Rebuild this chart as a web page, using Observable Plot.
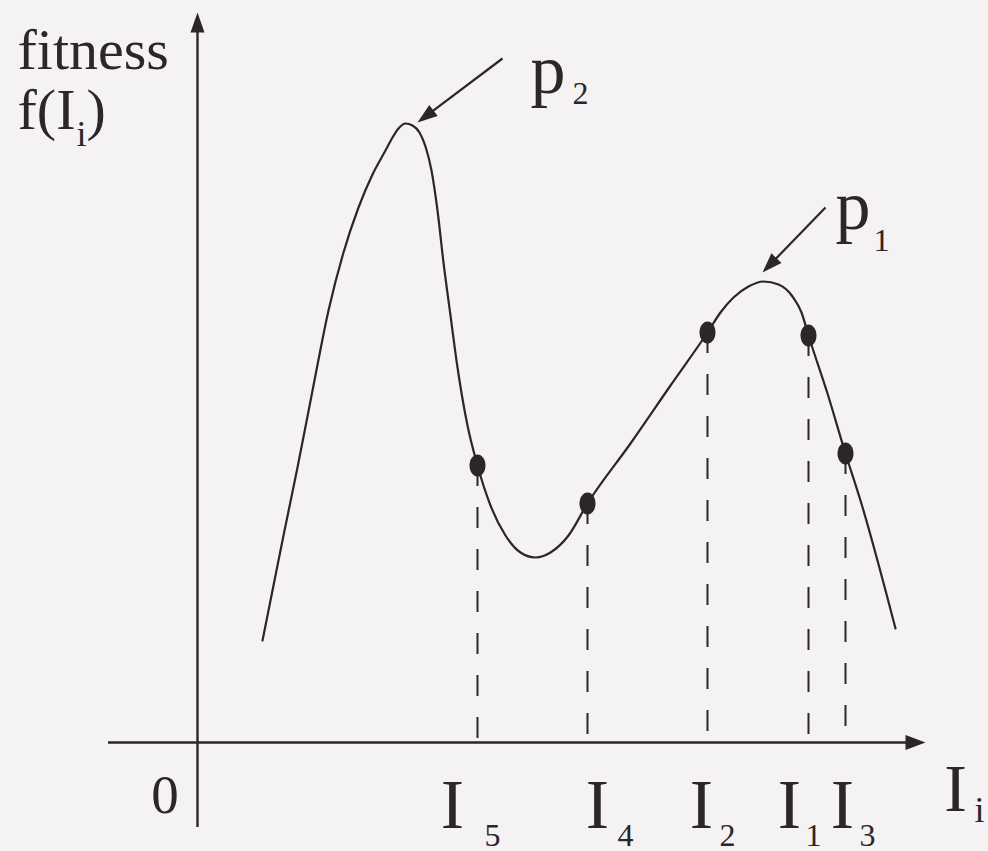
<!DOCTYPE html>
<html>
<head>
<meta charset="utf-8">
<script src="https://cdn.jsdelivr.net/npm/d3@7"></script>
<script src="https://cdn.jsdelivr.net/npm/@observablehq/plot@0.6"></script>
<style>
  html, body { margin: 0; padding: 0; background: #f4f2f2; }
  #chart svg { display: block; }
  #chart svg text { font-family: "Liberation Serif", "DejaVu Serif", serif !important; }
</style>
</head>
<body>
<div id="chart"></div>
<script>
// Fitness landscape f(I) sampled along the I axis
const curveI = [0.65, 0.73, 0.86, 1.00, 1.16, 1.31, 1.46, 1.61, 1.75, 1.88, 1.95, 2.01, 2.08, 2.15, 2.22, 2.28, 2.34, 2.40, 2.46, 2.53, 2.60, 2.70, 2.80, 2.93, 3.08, 3.23, 3.38, 3.53, 3.71, 3.90, 4.33, 4.73, 5.10, 5.23, 5.36, 5.51, 5.66, 5.81, 5.95, 6.04, 6.11, 6.30, 6.48, 6.63, 6.98];
const curveF = [1.02, 1.42, 2.07, 2.75, 3.57, 4.32, 4.90, 5.35, 5.68, 5.92, 6.05, 6.14, 6.19, 6.17, 6.10, 5.96, 5.72, 5.32, 4.80, 4.27, 3.75, 3.17, 2.77, 2.37, 2.07, 1.90, 1.85, 1.90, 2.07, 2.39, 2.99, 3.57, 4.10, 4.30, 4.45, 4.56, 4.61, 4.58, 4.46, 4.30, 4.07, 3.49, 2.89, 2.42, 1.14];

// Individuals on the landscape
const individuals = ["I", "I", "I", "I", "I"];
const individualIndex = ["5", "4", "2", "1", "3"];
const individualI = [2.80, 3.90, 5.10, 6.11, 6.48];
const individualF = [2.77, 2.39, 4.10, 4.07, 2.89];
// where each individual's name sits under the axis
const nameI = [2.55, 4.00, 5.04, 5.92, 6.45];
const indexI = [2.87, 4.20, 5.22, 6.08, 6.62];

// Peaks p2 and p1 with their pointer arrows
const peakNames = ["p", "p"];
const peakIndex = ["2", "1"];
const peakTipI = [2.20, 5.65];
const peakTipF = [6.20, 4.70];
const peakTailI = [3.05, 6.28];
const peakTailF = [6.84, 5.35];
const peakNameI = [3.33, 6.38];
const peakNameF = [6.50, 5.14];
const peakSubI = [3.75, 6.76];
const peakSubF = [6.39, 4.92];

const ink = "#2a2629";
const serif = "Liberation Serif, DejaVu Serif, serif";

// filled arrowhead, tip at the origin pointing up
function arrowHead(len, wid) {
  return {
    draw(ctx) {
      ctx.moveTo(0, 0);
      ctx.lineTo(wid / 2, len);
      ctx.lineTo(-wid / 2, len);
      ctx.closePath();
    }
  };
}
// slightly tall ellipse for the individuals
function ellipse(rx, ry) {
  const k = 0.5523;
  return {
    draw(ctx) {
      ctx.moveTo(rx, 0);
      ctx.bezierCurveTo(rx, ry * k, rx * k, ry, 0, ry);
      ctx.bezierCurveTo(-rx * k, ry, -rx, ry * k, -rx, 0);
      ctx.bezierCurveTo(-rx, -ry * k, -rx * k, -ry, 0, -ry);
      ctx.bezierCurveTo(rx * k, -ry, rx, -ry * k, rx, 0);
      ctx.closePath();
    }
  };
}
// heading in degrees (clockwise from up) of a vector given in data units
const heading = (dx, dy) => Math.atan2(dx, dy) * 180 / Math.PI;

const curve = curveI.map((x, i) => ({x, f: curveF[i]}));
const inds = individualI.map((x, i) => ({
  x, f: individualF[i], name: individuals[i], idx: individualIndex[i],
  nx: nameI[i], ix: indexI[i]
}));
const peaks = peakTipI.map((x, i) => {
  const tx = peakTailI[i], ty = peakTailF[i], y = peakTipF[i];
  const dx = x - tx, dy = y - ty, len = Math.hypot(dx, dy);
  const back = 0.16 / len;
  return {
    tipX: x, tipY: y, tailX: tx, tailY: ty,
    endX: x - dx * back, endY: y - dy * back,
    rot: heading(dx, dy),
    name: peakNames[i], idx: peakIndex[i],
    nx: peakNameI[i], ny: peakNameF[i], sx: peakSubI[i], sy: peakSubF[i]
  };
});

const axisX = {from: -0.89, tip: 7.28};
const axisY = {from: -0.85, tip: 7.30};

const txt = (data, opts) => Plot.text(data, {
  fontFamily: serif, fill: ink, lineAnchor: "bottom", textAnchor: "start", ...opts
});

const chart = Plot.plot({
  width: 988,
  height: 851,
  margin: 0,
  x: {domain: [-1.97, 7.91], axis: null},
  y: {domain: [-1.09, 7.42], axis: null},
  style: {background: "transparent", overflow: "visible"},
  marks: [
    // axes with arrowheads
    Plot.ruleY([0], {x1: axisX.from, x2: axisX.tip - 0.12, stroke: ink, strokeWidth: 2.4}),
    Plot.ruleX([0], {y1: axisY.from, y2: axisY.tip - 0.12, stroke: ink, strokeWidth: 2.4}),
    Plot.dot([{x: axisX.tip, y: 0}], {x: "x", y: "y", symbol: arrowHead(20, 15), rotate: 90, fill: ink, stroke: "none"}),
    Plot.dot([{x: 0, y: axisY.tip}], {x: "x", y: "y", symbol: arrowHead(20, 14), rotate: 0, fill: ink, stroke: "none"}),

    // dashed drops from each individual to the axis
    Plot.ruleX(inds, {x: "x", y1: "f", y2: 0, stroke: ink, strokeWidth: 2, strokeDasharray: "21,21"}),

    // landscape
    Plot.line(curve, {x: "x", y: "f", curve: "monotone-x", stroke: ink, strokeWidth: 2.2}),

    // individuals
    Plot.dot(inds, {x: "x", y: "f", symbol: ellipse(8, 11), fill: ink, stroke: "none"}),

    // peak pointers
    Plot.link(peaks, {x1: "tailX", y1: "tailY", x2: "endX", y2: "endY", stroke: ink, strokeWidth: 2.2}),
    Plot.dot(peaks, {x: "tipX", y: "tipY", symbol: arrowHead(20, 14), rotate: "rot", fill: ink, stroke: "none"}),
    txt(peaks, {x: "nx", y: "ny", text: "name", fontSize: 70}),
    txt(peaks, {x: "sx", y: "sy", text: "idx", fontSize: 32}),

    // individual names under the axis
    txt(inds, {x: "nx", y: -0.85, text: "name", fontSize: 70, textAnchor: "middle"}),
    txt(inds, {x: "ix", y: -1.03, text: "idx", fontSize: 32}),

    // axis titles
    txt([0], {x: -0.325, y: -0.70, text: ["0"], fontSize: 55, textAnchor: "middle"}),
    txt([0], {x: 7.58, y: -0.68, text: ["I"], fontSize: 68, textAnchor: "middle"}),
    txt([0], {x: 7.77, y: -0.79, text: ["i"], fontSize: 36}),
    txt([0], {x: -1.80, y: 6.74, text: ["fitness"], fontSize: 58, letterSpacing: "1.5px"}),
    txt([0], {x: -1.80, y: 6.14, text: ["f(I"], fontSize: 58}),
    txt([0], {x: -1.21, y: 5.97, text: ["i"], fontSize: 36}),
    txt([0], {x: -1.11, y: 6.14, text: [")"], fontSize: 58})
  ]
});

// make sure every label uses the serif face
chart.querySelectorAll("text").forEach(t => t.style.setProperty("font-family", "'Liberation Serif', 'DejaVu Serif', serif", "important"));

document.getElementById("chart").append(chart);
</script>
</body>
</html>
